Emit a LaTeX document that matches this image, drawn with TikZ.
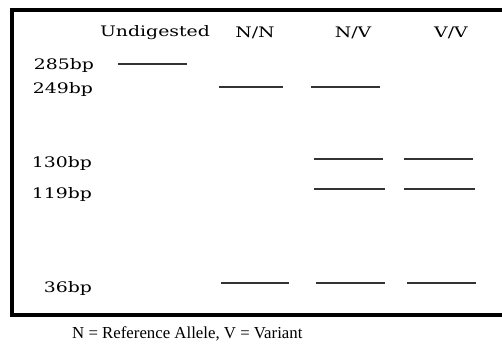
\documentclass[tikz,border=0pt]{standalone}
\usepackage{fontspec}
\setmainfont{Liberation Serif}
\newfontfamily\labfont[FakeStretch=1.3]{DejaVu Serif}
\begin{document}
\begin{tikzpicture}[x=1pt,y=-1pt,
  band/.style={draw=black!80,line width=1.8pt},
  lab/.style={font=\labfont\fontsize{14.5}{16}\selectfont,inner sep=0pt,text=black},
  captext/.style={font=\fontsize{16.8}{19}\selectfont,inner sep=0pt}]
\useasboundingbox (0,0) rectangle (502,343);
\clip (0,0) rectangle (502,343);
\fill[white] (0,0) rectangle (502,343);
\draw[line width=4pt] (510,10) -- (12,10) -- (12,314.5) -- (510,314.5);
% headers
\node[lab] (hU) at (155,33) {Undigested};
\node[lab] (hNN) at (255,33) {N/N};
\node[lab] (hNV) at (353,33) {N/V};
\node[lab] (hVV) at (451,33) {V/V};
% size labels
\node[lab] (l285) at (64,65) {285bp};
\node[lab] (l249) at (63,89) {249bp};
\node[lab] (l130) at (62,163) {130bp};
\node[lab] (l119) at (62,194) {119bp};
\node[lab] (l36) at (68,288) {36bp};
% bands
\draw[band] (118,64) -- (187,64);
\draw[band] (219,87) -- (283,87);
\draw[band] (311,87) -- (380,87);
\draw[band] (314,159) -- (383,159);
\draw[band] (404,159) -- (473,159);
\draw[band] (314,189) -- (385,189);
\draw[band] (404,189) -- (475,189);
\draw[band] (221,283) -- (289,283);
\draw[band] (316,283) -- (385,283);
\draw[band] (407,283) -- (476,283);
% caption
\node[captext,anchor=base west] (caption) at (72,338) {N = Reference Allele, V = Variant};
\end{tikzpicture}
\end{document}
